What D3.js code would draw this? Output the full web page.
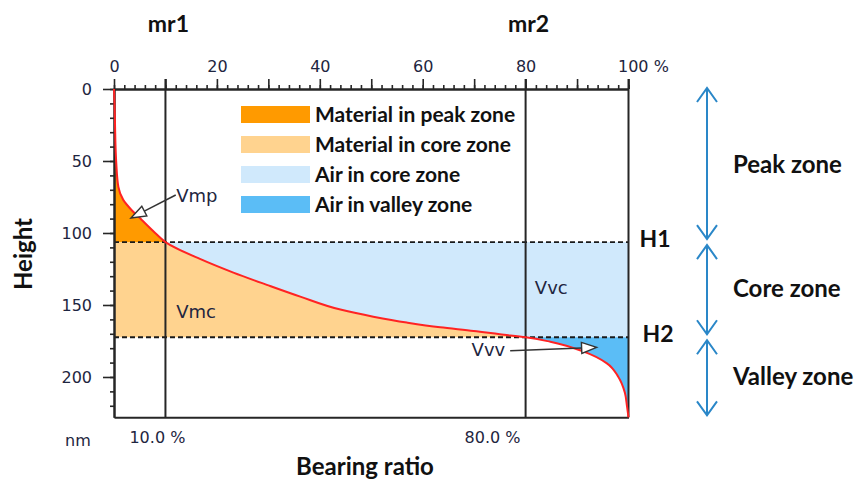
<!DOCTYPE html>
<html>
<head>
<meta charset="utf-8">
<script src="https://cdn.jsdelivr.net/npm/d3@7"></script>
<style>
  html, body { margin: 0; padding: 0; background: #fff; }
  svg { display: block; }
  .bold { font-family: Lato, "Open Sans", sans-serif; font-weight: 700; fill: #111; }
  .tick-txt { font-family: "DejaVu Sans", Verdana, sans-serif; fill: #1e2540; }
</style>
</head>
<body>
<svg id="chart" width="856" height="481"></svg>
<script>
// Abbott-Firestone (bearing ratio) curve: bearing ratio in %, height in nm
const bearingPct = [0, 0.1, 0.2, 0.3, 0.45, 0.85, 1.8, 3.4, 5.4, 8, 10, 16.7, 23.2, 29.7, 36.2, 44, 50.4, 56.9, 63.4, 69.9, 75, 80, 84.8, 91.3, 95.8, 98, 99.3, 99.7, 100];
const heightNm   = [0, 10, 25, 40, 52, 68, 77, 84, 91, 100, 106.3, 118, 127.5, 136, 144.2, 153.2, 158.1, 162.2, 165.5, 168, 170.3, 172.4, 175.5, 182.4, 190.5, 199.8, 211, 220, 228];

// material ratios and the matching heights that bound the zones
const mrValues = [10, 80];
const mrNames = ["mr1", "mr2"];
const hValues = [106.3, 172.4];
const hNames = ["H1", "H2"];

const topTickLabels = [0, 20, 40, 60, 80, 100];
const leftTickLabels = [0, 50, 100, 150, 200];

const legendLabels = ["Material in peak zone", "Material in core zone", "Air in core zone", "Air in valley zone"];
const legendColors = ["#ff9a00", "#ffd38f", "#d0e9fc", "#5bbdf6"];

const zoneNames = ["Peak zone", "Core zone", "Valley zone"];

const svg = d3.select("#chart");

const x = d3.scaleLinear().domain([0, 100]).range([114, 628.5]);
const y = d3.scaleLinear().domain([0, 228]).range([89, 417.3]);

const pts = bearingPct.map((p, i) => ({ p, h: heightNm[i] }));
const [H1, H2] = hValues;
const hMax = y.domain()[1];

// clip bands for the three height zones
const defs = svg.append("defs");
function band(id, h0, h1) {
  defs.append("clipPath").attr("id", id)
    .append("rect")
    .attr("x", x(0)).attr("width", x(100) - x(0))
    .attr("y", y(h0)).attr("height", y(h1) - y(h0));
}
band("peakBand", 0, H1);
band("coreBand", H1, H2);
band("valleyBand", H2, hMax);

const material = d3.area().curve(d3.curveMonotoneY)
  .y(d => y(d.h)).x0(x(0)).x1(d => x(d.p));
const air = d3.area().curve(d3.curveMonotoneY)
  .y(d => y(d.h)).x0(d => x(d.p)).x1(x(100));

const fills = svg.append("g");
fills.append("path").attr("d", material(pts)).attr("fill", legendColors[0]).attr("clip-path", "url(#peakBand)");
fills.append("path").attr("d", material(pts)).attr("fill", legendColors[1]).attr("clip-path", "url(#coreBand)");
fills.append("path").attr("d", air(pts)).attr("fill", legendColors[2]).attr("clip-path", "url(#coreBand)");
fills.append("path").attr("d", air(pts)).attr("fill", legendColors[3]).attr("clip-path", "url(#valleyBand)");

const lineCol = "#262626";

// dashed H1 / H2 lines
svg.append("g").selectAll("line").data(hValues).join("line")
  .attr("x1", x(0)).attr("x2", x(100))
  .attr("y1", d => y(d)).attr("y2", d => y(d))
  .attr("stroke", "#1a1a1a").attr("stroke-width", 1.8)
  .attr("stroke-dasharray", "5,3");

// vertical mr lines and right border
svg.append("g").selectAll("line").data(mrValues.concat([100])).join("line")
  .attr("x1", d => x(d)).attr("x2", d => x(d))
  .attr("y1", y(0) - 10).attr("y2", y(hMax))
  .attr("stroke", lineCol).attr("stroke-width", 2);

// top axis: minor ticks every 2 %, major every 10 %
const gTopMinor = svg.append("g").attr("transform", `translate(0,${y(0)})`)
  .call(d3.axisTop(x).tickValues(d3.range(0, 101, 2)).tickSize(4).tickSizeOuter(0).tickFormat(""));
const gTop = svg.append("g").attr("transform", `translate(0,${y(0)})`)
  .call(d3.axisTop(x).tickValues(d3.range(0, 101, 10)).tickSize(10).tickSizeOuter(0).tickPadding(7)
    .tickFormat(d => topTickLabels.includes(d) ? (d === 100 ? "100 %" : d) : ""));
gTop.selectAll("text").filter(d => d === 100).attr("text-anchor", "start").attr("dx", "-11");

// left axis: minor ticks every 10 nm, labelled every 50 nm
const gLeftMinor = svg.append("g").attr("transform", `translate(${x(0)},0)`)
  .call(d3.axisLeft(y).tickValues(d3.range(0, 229, 10)).tickSize(4).tickSizeOuter(0).tickFormat(""));
const gLeft = svg.append("g").attr("transform", `translate(${x(0)},0)`)
  .call(d3.axisLeft(y).tickValues(leftTickLabels).tickSize(11).tickSizeOuter(0).tickPadding(11));

// bottom line
const gBottom = svg.append("g").attr("transform", `translate(0,${y(hMax)})`)
  .call(d3.axisBottom(x).tickValues([]).tickSizeOuter(0));

[gTopMinor, gTop, gLeftMinor, gLeft, gBottom].forEach(g => {
  g.selectAll("path.domain").attr("stroke", lineCol).attr("stroke-width", 2);
  g.selectAll(".tick line").attr("stroke", lineCol).attr("stroke-width", 1.6);
  g.selectAll("text").attr("class", "tick-txt").attr("font-size", 16).attr("fill", "#1e2540");
});

// bearing ratio curve
svg.append("path")
  .attr("d", d3.line().curve(d3.curveMonotoneY).x(d => x(d.p)).y(d => y(d.h))(pts))
  .attr("fill", "none").attr("stroke", "#ff2323").attr("stroke-width", 2);

// bottom labels at the material ratios
svg.append("g").selectAll("text").data(mrValues).join("text")
  .attr("class", "tick-txt").attr("font-size", 16)
  .attr("x", (d, i) => i === 0 ? x(d) - 36 : x(d) - 61)
  .attr("y", 443)
  .text(d => d3.format(".1f")(d) + " %");

svg.append("text").attr("class", "tick-txt").attr("font-size", 16)
  .attr("x", 65).attr("y", 446).text("nm");

// mr1 / mr2 headers
svg.append("g").selectAll("text").data(mrValues).join("text")
  .attr("class", "bold").attr("font-size", 23).attr("text-anchor", "middle")
  .attr("x", d => x(d) + 3).attr("y", 32)
  .text((d, i) => mrNames[i]);

// H1 / H2 labels
svg.append("g").selectAll("text").data(hValues).join("text")
  .attr("class", "bold").attr("font-size", 23)
  .attr("x", (d, i) => x(100) + 11 + i * 3).attr("y", d => y(d) - 3)
  .attr("dy", "0.35em")
  .text((d, i) => hNames[i]);

// axis titles
svg.append("text").attr("class", "bold").attr("font-size", 24)
  .attr("text-anchor", "middle")
  .attr("transform", `translate(32,${254}) rotate(-90)`)
  .text("Height");
svg.append("text").attr("class", "bold").attr("font-size", 24)
  .attr("text-anchor", "middle")
  .attr("x", 365).attr("y", 475)
  .text("Bearing ratio");

// legend
const lg = svg.append("g").attr("transform", "translate(241,106)");
const rows = lg.selectAll("g").data(legendLabels).join("g")
  .attr("transform", (d, i) => `translate(0,${i * 30})`);
rows.append("rect").attr("width", 69).attr("height", 17).attr("fill", (d, i) => legendColors[i]);
rows.append("text").attr("class", "bold").attr("font-size", 21)
  .attr("x", 74).attr("y", 8.5).attr("dy", "0.35em").text(d => d);

// zone arrows on the right
const zoneSpans = [[0, H1], [H1, H2], [H2, hMax]];
const ax = 707, blue = "#2a87c8";
const za = svg.append("g").attr("stroke", blue).attr("stroke-width", 2).attr("fill", "none");
zoneSpans.forEach(([a, b], i) => {
  const top = y(a) + (i === 0 ? -1 : 3);
  const bot = y(b) - (i === 2 ? 2 : 3);
  za.append("line").attr("x1", ax).attr("x2", ax).attr("y1", top).attr("y2", bot);
  za.append("path").attr("d", `M${ax - 10},${top + 14}L${ax},${top}L${ax + 10},${top + 14}`);
  za.append("path").attr("d", `M${ax - 10},${bot - 14}L${ax},${bot}L${ax + 10},${bot - 14}`);
  svg.append("text").attr("class", "bold").attr("font-size", 24)
    .attr("x", 733).attr("y", (y(a) + y(b)) / 2 - 1).attr("dy", "0.35em")
    .text(zoneNames[i]);
});

// volume annotations
function arrow(p0, p1) {
  const x0 = x(p0[0]), y0 = y(p0[1]), x1 = x(p1[0]), y1 = y(p1[1]);
  const len = Math.hypot(x1 - x0, y1 - y0), ux = (x1 - x0) / len, uy = (y1 - y0) / len;
  const L = 15, Wd = 5.5;
  const bx = x1 - ux * L, by = y1 - uy * L;
  svg.append("line").attr("x1", x0).attr("y1", y0).attr("x2", bx).attr("y2", by)
    .attr("stroke", "#333").attr("stroke-width", 1.5);
  svg.append("path")
    .attr("d", `M${x1},${y1}L${bx - uy * Wd},${by + ux * Wd}L${bx + uy * Wd},${by - ux * Wd}Z`)
    .attr("fill", "#fff").attr("stroke", "#333").attr("stroke-width", 1.4);
}
arrow([12, 73.6], [3.3, 89.6]);
arrow([77, 181.7], [93.8, 179.4]);

const notes = [["Vmp", 12.1, 74.3], ["Vmc", 12.1, 154.7], ["Vvc", 81.8, 138.2], ["Vvv", 69.5, 181.2]];
svg.append("g").selectAll("text").data(notes).join("text")
  .attr("class", "tick-txt").attr("font-size", 18)
  .attr("x", d => x(d[1])).attr("y", d => y(d[2])).attr("dy", "0.35em")
  .text(d => d[0]);
</script>
</body>
</html>
